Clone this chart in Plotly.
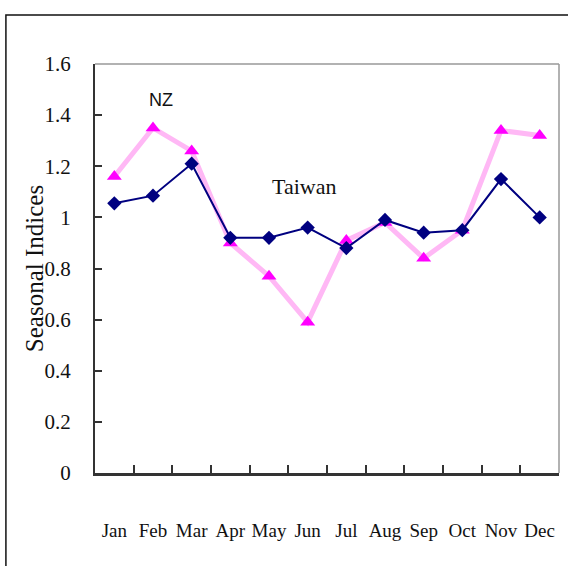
import plotly.graph_objects as go

months = ["Jan", "Feb", "Mar", "Apr", "May", "Jun", "Jul", "Aug", "Sep", "Oct", "Nov", "Dec"]
taiwan = [1.055, 1.085, 1.21, 0.92, 0.92, 0.96, 0.88, 0.99, 0.94, 0.95, 1.15, 1.0]
nz = [1.16, 1.35, 1.26, 0.90, 0.77, 0.59, 0.91, 0.98, 0.84, 0.95, 1.34, 1.32]
y_ticks = [0, 0.2, 0.4, 0.6, 0.8, 1, 1.2, 1.4, 1.6]
y_tick_text = ["0", "0.2", "0.4", "0.6", "0.8", "1", "1.2", "1.4", "1.6"]

serif = "Liberation Serif, Times New Roman, serif"

fig = go.Figure()
fig.add_trace(go.Scatter(
    x=months, y=nz, name="NZ", mode="lines+markers",
    line=dict(color="#ffb8f5", width=5),
    marker=dict(symbol="triangle-up", size=13, color="#ff00ff"),
))
fig.add_trace(go.Scatter(
    x=months, y=taiwan, name="Taiwan", mode="lines+markers",
    line=dict(color="#000080", width=2),
    marker=dict(symbol="diamond", size=11, color="#000080"),
))

fig.update_layout(
    width=568, height=566,
    margin=dict(l=95, r=9, t=64, b=93),
    paper_bgcolor="white", plot_bgcolor="white",
    showlegend=False,
    font=dict(family=serif),
    xaxis=dict(
        type="category", range=[-0.5, 11.5], tickson="boundaries",
        ticks="inside", ticklen=8, tickwidth=1.5, tickcolor="#333",
        showline=True, linecolor="#333", linewidth=2.5,
        showgrid=False, zeroline=False, automargin=False,
        tickangle=0,
        tickfont=dict(family=serif, size=19, color="#111"),
        ticklabelstandoff=38,
    ),
    yaxis=dict(
        range=[0, 1.6], tickmode="array", tickvals=y_ticks, ticktext=y_tick_text,
        ticks="inside", ticklen=7, tickwidth=1.5, tickcolor="#333",
        showline=True, linecolor="#333", linewidth=2,
        showgrid=False, zeroline=False, automargin=False,
        tickfont=dict(family="serif", size=21, color="#111"),
        ticklabelstandoff=18,
    ),
    shapes=[
        dict(type="line", xref="paper", yref="paper", x0=0, x1=1, y0=1, y1=1,
             line=dict(color="#999", width=1.5)),
        dict(type="line", xref="paper", yref="paper", x0=1, x1=1, y0=0, y1=1,
             line=dict(color="#999", width=1.5)),
        dict(type="rect", xref="paper", yref="paper", x0=-0.192, x1=1.1, y0=-0.3, y1=1.12,
             line=dict(color="#111", width=1.5)),
    ],
    annotations=[
        dict(text="Seasonal Indices", x=-0.13, y=0.5, xref="paper", yref="paper",
             textangle=-90, showarrow=False, xanchor="center", yanchor="middle",
             font=dict(family=serif, size=25, color="#111")),
        dict(text="NZ", x=1.2, y=1.46, xref="x", yref="y", showarrow=False,
             font=dict(family="Liberation Sans, Arial, sans-serif", size=18, color="#111")),
        dict(text="Taiwan", x=4.9, y=1.12, xref="x", yref="y", showarrow=False,
             font=dict(family="serif", size=22, color="#111")),
    ],
)

fig.write_html("out.html", config={"displayModeBar": False},
               post_script="document.body.style.margin='0';")
